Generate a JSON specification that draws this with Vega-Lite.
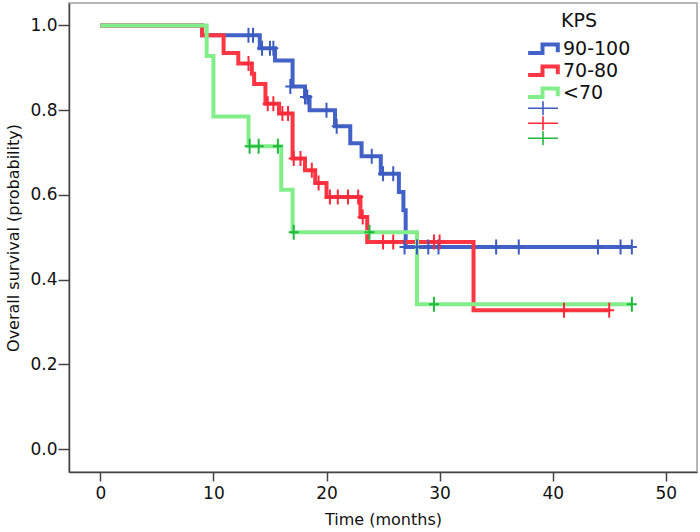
{
  "$schema": "https://vega.github.io/schema/vega-lite/v6.json",
  "autosize": "none",
  "width": 628,
  "height": 469,
  "padding": {"left": 69, "top": 3, "right": 3, "bottom": 60},
  "background": "white",
  "config": {
    "view": {"stroke": "#a0a0a0", "strokeWidth": 1.5},
    "font": "DejaVu Sans",
    "axis": {
      "grid": false,
      "domainColor": "#444444",
      "domainWidth": 1.5,
      "tickColor": "#444444",
      "tickWidth": 1.5,
      "labelFont": "DejaVu Sans",
      "labelColor": "#111111",
      "labelFontSize": 17,
      "titleFont": "DejaVu Sans",
      "titleFontSize": 16,
      "titleFontWeight": "normal",
      "titleColor": "#111111"
    },
    "legend": {
      "labelFont": "DejaVu Sans",
      "titleFont": "DejaVu Sans",
      "padding": 0
    }
  },
  "datasets": {
    "curves": [
      {"group": "90-100", "t": 0, "s": 1.0},
      {"group": "90-100", "t": 9.0, "s": 0.977},
      {"group": "90-100", "t": 14.1, "s": 0.946},
      {"group": "90-100", "t": 15.45, "s": 0.917},
      {"group": "90-100", "t": 17.0, "s": 0.856},
      {"group": "90-100", "t": 18.1, "s": 0.831},
      {"group": "90-100", "t": 18.5, "s": 0.8},
      {"group": "90-100", "t": 20.75, "s": 0.762},
      {"group": "90-100", "t": 22.1, "s": 0.722},
      {"group": "90-100", "t": 23.1, "s": 0.691},
      {"group": "90-100", "t": 24.8, "s": 0.65},
      {"group": "90-100", "t": 26.4, "s": 0.607},
      {"group": "90-100", "t": 26.8, "s": 0.564},
      {"group": "90-100", "t": 27.0, "s": 0.477},
      {"group": "90-100", "t": 47.0, "s": 0.477},
      {"group": "70-80", "t": 0, "s": 1.0},
      {"group": "70-80", "t": 9.0, "s": 0.977},
      {"group": "70-80", "t": 10.9, "s": 0.935},
      {"group": "70-80", "t": 12.2, "s": 0.91},
      {"group": "70-80", "t": 13.4, "s": 0.886},
      {"group": "70-80", "t": 13.6, "s": 0.862},
      {"group": "70-80", "t": 14.6, "s": 0.815},
      {"group": "70-80", "t": 15.8, "s": 0.792},
      {"group": "70-80", "t": 17.0, "s": 0.686},
      {"group": "70-80", "t": 18.1, "s": 0.658},
      {"group": "70-80", "t": 19.0, "s": 0.628},
      {"group": "70-80", "t": 20.0, "s": 0.595},
      {"group": "70-80", "t": 23.0, "s": 0.548},
      {"group": "70-80", "t": 23.6, "s": 0.489},
      {"group": "70-80", "t": 33.0, "s": 0.328},
      {"group": "70-80", "t": 45.0, "s": 0.328},
      {"group": "<70", "t": 0, "s": 1.0},
      {"group": "<70", "t": 9.4, "s": 0.928},
      {"group": "<70", "t": 10.0, "s": 0.785},
      {"group": "<70", "t": 13.1, "s": 0.715},
      {"group": "<70", "t": 16.0, "s": 0.612},
      {"group": "<70", "t": 17.0, "s": 0.512},
      {"group": "<70", "t": 28.0, "s": 0.342},
      {"group": "<70", "t": 47.0, "s": 0.342}
    ],
    "censored": [
      {"group": "90-100", "t": 13.1, "s": 0.977},
      {"group": "90-100", "t": 13.5, "s": 0.977},
      {"group": "90-100", "t": 14.3, "s": 0.946},
      {"group": "90-100", "t": 15.0, "s": 0.946},
      {"group": "90-100", "t": 15.3, "s": 0.946},
      {"group": "90-100", "t": 16.8, "s": 0.856},
      {"group": "90-100", "t": 18.1, "s": 0.831},
      {"group": "90-100", "t": 18.3, "s": 0.831},
      {"group": "90-100", "t": 20.0, "s": 0.8},
      {"group": "90-100", "t": 20.9, "s": 0.762},
      {"group": "90-100", "t": 24.0, "s": 0.691},
      {"group": "90-100", "t": 25.0, "s": 0.65},
      {"group": "90-100", "t": 25.9, "s": 0.65},
      {"group": "90-100", "t": 26.9, "s": 0.477},
      {"group": "90-100", "t": 28.0, "s": 0.477},
      {"group": "90-100", "t": 29.0, "s": 0.477},
      {"group": "90-100", "t": 29.9, "s": 0.477},
      {"group": "90-100", "t": 35.0, "s": 0.477},
      {"group": "90-100", "t": 37.0, "s": 0.477},
      {"group": "90-100", "t": 44.0, "s": 0.477},
      {"group": "90-100", "t": 46.0, "s": 0.477},
      {"group": "90-100", "t": 47.0, "s": 0.477},
      {"group": "70-80", "t": 13.1, "s": 0.91},
      {"group": "70-80", "t": 14.8, "s": 0.815},
      {"group": "70-80", "t": 15.3, "s": 0.815},
      {"group": "70-80", "t": 16.1, "s": 0.792},
      {"group": "70-80", "t": 16.6, "s": 0.792},
      {"group": "70-80", "t": 17.1, "s": 0.686},
      {"group": "70-80", "t": 17.7, "s": 0.686},
      {"group": "70-80", "t": 18.7, "s": 0.658},
      {"group": "70-80", "t": 19.3, "s": 0.628},
      {"group": "70-80", "t": 20.3, "s": 0.595},
      {"group": "70-80", "t": 21.0, "s": 0.595},
      {"group": "70-80", "t": 21.9, "s": 0.595},
      {"group": "70-80", "t": 22.8, "s": 0.595},
      {"group": "70-80", "t": 23.2, "s": 0.548},
      {"group": "70-80", "t": 25.0, "s": 0.489},
      {"group": "70-80", "t": 25.9, "s": 0.489},
      {"group": "70-80", "t": 29.5, "s": 0.489},
      {"group": "70-80", "t": 30.0, "s": 0.489},
      {"group": "70-80", "t": 41.0, "s": 0.328},
      {"group": "70-80", "t": 45.0, "s": 0.328},
      {"group": "<70", "t": 13.2, "s": 0.715},
      {"group": "<70", "t": 14.0, "s": 0.715},
      {"group": "<70", "t": 15.7, "s": 0.715},
      {"group": "<70", "t": 17.1, "s": 0.512},
      {"group": "<70", "t": 23.8, "s": 0.512},
      {"group": "<70", "t": 29.5, "s": 0.342},
      {"group": "<70", "t": 47.0, "s": 0.342}
    ]
  },
  "encoding": {
    "x": {
      "field": "t", "type": "quantitative",
      "scale": {"domain": [-2.77, 52.76], "nice": false, "zero": false},
      "axis": {"title": "Time (months)", "values": [0, 10, 20, 30, 40, 50], "tickSize": 9, "labelPadding": 4, "titlePadding": 10}
    },
    "y": {
      "field": "s", "type": "quantitative",
      "scale": {"domain": [-0.054, 1.053], "nice": false, "zero": false},
      "axis": {"title": "Overall survival (probability)", "values": [0, 0.2, 0.4, 0.6, 0.8, 1.0], "format": ".1f", "tickSize": 11, "labelPadding": 1, "titlePadding": 8}
    }
  },
  "layer": [
    {
      "data": {"name": "curves"},
      "mark": {"type": "line", "interpolate": "step-after", "strokeWidth": 4},
      "encoding": {
        "color": {
          "field": "group", "type": "nominal",
          "scale": {"domain": ["90-100", "70-80", "<70"], "range": ["#4262c8", "#fc3642", "#82ee8a"]},
          "legend": {
            "title": "KPS",
            "orient": "none",
            "legendX": 458,
            "legendY": 9,
            "titleFontSize": 19,
            "titleFontWeight": "normal",
            "titleColor": "#111111",
            "titleAnchor": "middle",
            "titlePadding": 7,
            "labelFontSize": 19,
            "labelColor": "#111111",
            "labelOffset": 14,
            "symbolType": "M-1.1,0.45H0.5V-0.5H2.2V0.35",
            "symbolSize": 324,
            "symbolStrokeWidth": 4,
            "symbolFillColor": "transparent",
            "clipHeight": 22,
            "rowPadding": 0
          }
        },
        "order": {"field": "t", "type": "quantitative"}
      }
    },
    {
      "data": {"name": "censored"},
      "mark": {"type": "point", "shape": "M-0.67,0H0.67M0,-1V1", "size": 225, "filled": false, "strokeWidth": 2, "opacity": 1},
      "encoding": {
        "color": {
          "field": "group", "type": "nominal",
          "scale": {"domain": ["90-100", "70-80", "<70"], "range": ["#3d5cc0", "#fc2a3a", "#22b83e"]},
          "legend": {
            "title": null,
            "orient": "none",
            "legendX": 458,
            "legendY": 98,
            "labelExpr": "'MMMM'",
            "labelOpacity": 0,
            "labelFontSize": 9,
            "symbolType": "M-1,0H7.57M3.29,-2V2",
            "symbolSize": 49,
            "symbolStrokeWidth": 1.6,
            "symbolFillColor": "transparent",
            "clipHeight": 14.6,
            "rowPadding": 0
          }
        }
      }
    }
  ],
  "resolve": {"scale": {"color": "independent"}, "legend": {"color": "independent"}}
}
